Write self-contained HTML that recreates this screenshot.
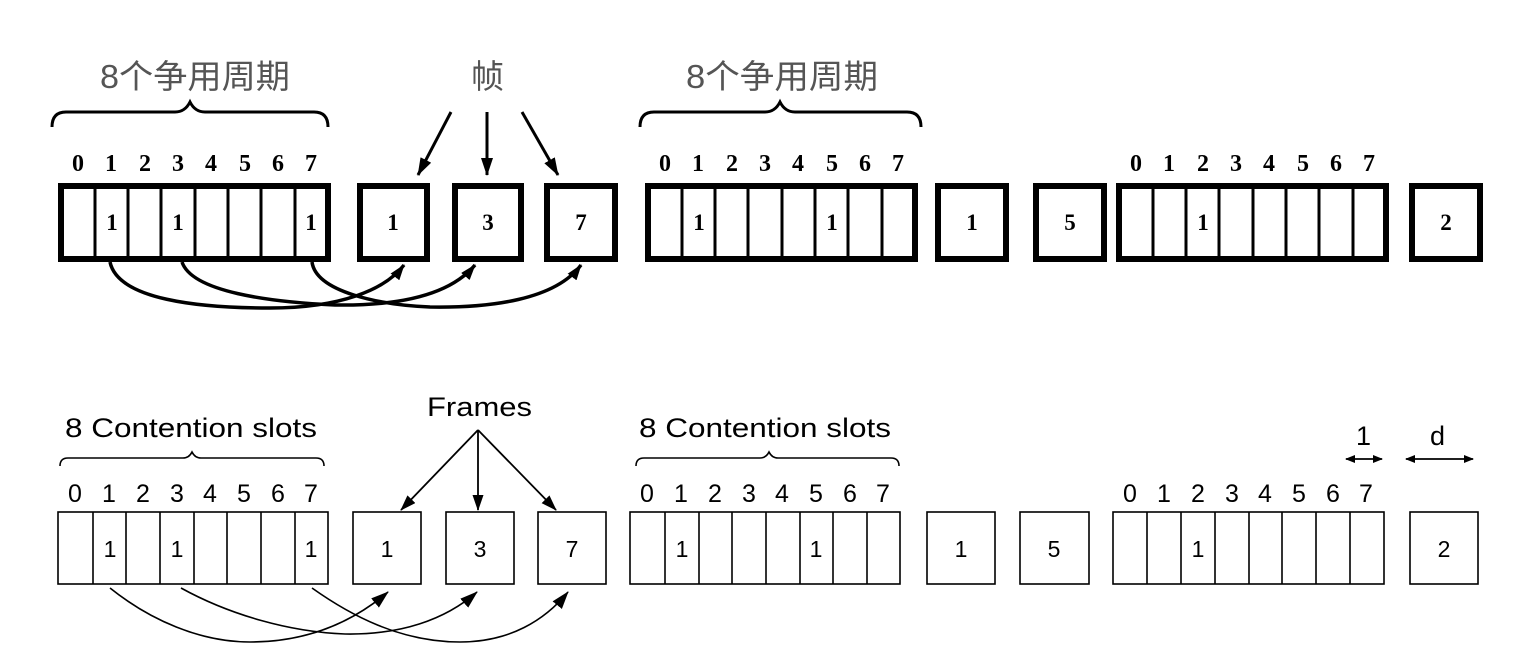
<!DOCTYPE html>
<html><head><meta charset="utf-8"><style>
html,body{margin:0;padding:0;background:#fff}
svg{display:block}
</style></head><body>
<svg width="1522" height="672" viewBox="0 0 1522 672" xmlns="http://www.w3.org/2000/svg">
<defs>
<marker id="ah" markerWidth="10" markerHeight="8" refX="9" refY="4" orient="auto-start-reverse" markerUnits="userSpaceOnUse"><path d="M0,0 L10,4 L0,8 Z" fill="#000"/></marker>
<marker id="ahb" markerWidth="16" markerHeight="11" refX="15" refY="5.5" orient="auto" markerUnits="userSpaceOnUse"><path d="M0,0 L16,5.5 L0,11 Z" fill="#000"/></marker>
<marker id="ahl" markerWidth="18" markerHeight="12" refX="17" refY="6" orient="auto" markerUnits="userSpaceOnUse"><path d="M0,0 L18,6 L0,12 Z" fill="#000"/></marker>
</defs>

<!-- ===== TOP ===== -->
<g font-family="'Liberation Sans','Noto Sans CJK SC',sans-serif" font-size="33" fill="#555">
<text x="100" y="88" textLength="190" lengthAdjust="spacingAndGlyphs">8个争用周期</text>
<text x="686" y="88" textLength="192" lengthAdjust="spacingAndGlyphs">8个争用周期</text>
<text x="471" y="88">帧</text>
</g>
<g fill="none" stroke="#000" stroke-width="3">
<path d="M52,127 Q52,112 66,112 L175,112 Q185,112 190,102 Q195,112 205,112 L314,112 Q328,112 328,127"/>
<path d="M640,127 Q640,112 654,112 L765,112 Q775,112 780,102 Q785,112 795,112 L907,112 Q921,112 921,127"/>
</g>
<g stroke="#000" stroke-width="3" fill="none">
<line x1="451" y1="112" x2="418" y2="175" marker-end="url(#ahl)"/>
<line x1="487" y1="112" x2="487" y2="175" marker-end="url(#ahl)"/>
<line x1="522" y1="112" x2="558" y2="175" marker-end="url(#ahl)"/>
</g>
<g font-family="'Liberation Serif',serif" font-weight="bold" font-size="24" text-anchor="middle" fill="#000">
<text x="78" y="171">0</text><text x="111" y="171">1</text><text x="145" y="171">2</text><text x="178" y="171">3</text><text x="211" y="171">4</text><text x="245" y="171">5</text><text x="278" y="171">6</text><text x="311" y="171">7</text>
<text x="665" y="171">0</text><text x="698" y="171">1</text><text x="732" y="171">2</text><text x="765" y="171">3</text><text x="798" y="171">4</text><text x="832" y="171">5</text><text x="865" y="171">6</text><text x="898" y="171">7</text>
<text x="1136" y="171">0</text><text x="1169" y="171">1</text><text x="1203" y="171">2</text><text x="1236" y="171">3</text><text x="1269" y="171">4</text><text x="1303" y="171">5</text><text x="1336" y="171">6</text><text x="1369" y="171">7</text>
</g>
<g fill="none" stroke="#000" stroke-width="6">
<rect x="61" y="186" width="267" height="73"/>
<rect x="360" y="186" width="67" height="73"/>
<rect x="455" y="186" width="66" height="73"/>
<rect x="547" y="186" width="68" height="73"/>
<rect x="648" y="186" width="267" height="73"/>
<rect x="938" y="186" width="68" height="73"/>
<rect x="1036" y="186" width="68" height="73"/>
<rect x="1119" y="186" width="267" height="73"/>
<rect x="1412" y="186" width="68" height="73"/>
</g>
<g stroke="#000" stroke-width="3">
<line x1="95" y1="186" x2="95" y2="259"/><line x1="128" y1="186" x2="128" y2="259"/><line x1="161" y1="186" x2="161" y2="259"/><line x1="195" y1="186" x2="195" y2="259"/><line x1="228" y1="186" x2="228" y2="259"/><line x1="261" y1="186" x2="261" y2="259"/><line x1="295" y1="186" x2="295" y2="259"/>
<line x1="682" y1="186" x2="682" y2="259"/><line x1="715" y1="186" x2="715" y2="259"/><line x1="748" y1="186" x2="748" y2="259"/><line x1="782" y1="186" x2="782" y2="259"/><line x1="815" y1="186" x2="815" y2="259"/><line x1="848" y1="186" x2="848" y2="259"/><line x1="882" y1="186" x2="882" y2="259"/>
<line x1="1153" y1="186" x2="1153" y2="259"/><line x1="1186" y1="186" x2="1186" y2="259"/><line x1="1219" y1="186" x2="1219" y2="259"/><line x1="1253" y1="186" x2="1253" y2="259"/><line x1="1286" y1="186" x2="1286" y2="259"/><line x1="1319" y1="186" x2="1319" y2="259"/><line x1="1353" y1="186" x2="1353" y2="259"/>
</g>
<g font-family="'Liberation Serif',serif" font-weight="bold" font-size="23" text-anchor="middle" fill="#000">
<text x="112" y="230">1</text><text x="178" y="230">1</text><text x="311" y="230">1</text>
<text x="393" y="230">1</text><text x="488" y="230">3</text><text x="581" y="230">7</text>
<text x="699" y="230">1</text><text x="832" y="230">1</text>
<text x="972" y="230">1</text><text x="1070" y="230">5</text>
<text x="1203" y="230">1</text><text x="1446" y="230">2</text>
</g>
<g fill="none" stroke="#000" stroke-width="3.5">
<path d="M110,262 C118,300 200,308 270,308 C340,308 385,290 404,265" marker-end="url(#ahb)"/>
<path d="M182,262 C192,292 270,302 335,305 C400,306 450,295 475,265" marker-end="url(#ahb)"/>
<path d="M312,262 C316,292 380,305 430,307 C490,308 555,300 581,265" marker-end="url(#ahb)"/>
</g>

<!-- ===== BOTTOM ===== -->
<g font-family="'Liberation Sans',sans-serif" font-size="27" fill="#000">
<text x="65" y="437" textLength="252" lengthAdjust="spacingAndGlyphs">8 Contention slots</text>
<text x="639" y="437" textLength="252" lengthAdjust="spacingAndGlyphs">8 Contention slots</text>
<text x="427" y="416" textLength="105" lengthAdjust="spacingAndGlyphs">Frames</text>
<text x="1356" y="445">1</text>
<text x="1430" y="445">d</text>
</g>
<g fill="none" stroke="#000" stroke-width="1.6">
<path d="M60,466 Q60,458 68,458 L183,458 Q189,458 192,452 Q195,458 201,458 L316,458 Q324,458 324,466"/>
<path d="M636,466 Q636,458 644,458 L760,458 Q766,458 769,452 Q772,458 778,458 L891,458 Q899,458 899,466"/>
</g>
<g stroke="#000" stroke-width="1.8" fill="none">
<line x1="478" y1="430" x2="401" y2="510" marker-end="url(#ahb)"/>
<line x1="478" y1="430" x2="478" y2="510" marker-end="url(#ahb)"/>
<line x1="478" y1="430" x2="556" y2="510" marker-end="url(#ahb)"/>
<line x1="1346" y1="459" x2="1382" y2="459" marker-start="url(#ah)" marker-end="url(#ah)"/>
<line x1="1406" y1="459" x2="1473" y2="459" marker-start="url(#ah)" marker-end="url(#ah)"/>
</g>
<g font-family="'Liberation Sans',sans-serif" font-size="25" text-anchor="middle" fill="#000">
<text x="75" y="502">0</text><text x="109" y="502">1</text><text x="143" y="502">2</text><text x="177" y="502">3</text><text x="210" y="502">4</text><text x="244" y="502">5</text><text x="278" y="502">6</text><text x="311" y="502">7</text>
<text x="647" y="502">0</text><text x="681" y="502">1</text><text x="715" y="502">2</text><text x="749" y="502">3</text><text x="782" y="502">4</text><text x="816" y="502">5</text><text x="850" y="502">6</text><text x="883" y="502">7</text>
<text x="1130" y="502">0</text><text x="1164" y="502">1</text><text x="1198" y="502">2</text><text x="1232" y="502">3</text><text x="1265" y="502">4</text><text x="1299" y="502">5</text><text x="1333" y="502">6</text><text x="1366" y="502">7</text>
</g>
<g fill="none" stroke="#000" stroke-width="1.6">
<rect x="58" y="512" width="270" height="72"/>
<rect x="353" y="512" width="68" height="72"/>
<rect x="446" y="512" width="68" height="72"/>
<rect x="538" y="512" width="68" height="72"/>
<rect x="630" y="512" width="270" height="72"/>
<rect x="927" y="512" width="68" height="72"/>
<rect x="1020" y="512" width="69" height="72"/>
<rect x="1113" y="512" width="271" height="72"/>
<rect x="1410" y="512" width="68" height="72"/>
<line x1="93" y1="512" x2="93" y2="584"/><line x1="126" y1="512" x2="126" y2="584"/><line x1="160" y1="512" x2="160" y2="584"/><line x1="194" y1="512" x2="194" y2="584"/><line x1="227" y1="512" x2="227" y2="584"/><line x1="261" y1="512" x2="261" y2="584"/><line x1="295" y1="512" x2="295" y2="584"/>
<line x1="665" y1="512" x2="665" y2="584"/><line x1="699" y1="512" x2="699" y2="584"/><line x1="732" y1="512" x2="732" y2="584"/><line x1="766" y1="512" x2="766" y2="584"/><line x1="800" y1="512" x2="800" y2="584"/><line x1="833" y1="512" x2="833" y2="584"/><line x1="867" y1="512" x2="867" y2="584"/>
<line x1="1147" y1="512" x2="1147" y2="584"/><line x1="1181" y1="512" x2="1181" y2="584"/><line x1="1215" y1="512" x2="1215" y2="584"/><line x1="1249" y1="512" x2="1249" y2="584"/><line x1="1282" y1="512" x2="1282" y2="584"/><line x1="1316" y1="512" x2="1316" y2="584"/><line x1="1350" y1="512" x2="1350" y2="584"/>
</g>
<g font-family="'Liberation Sans',sans-serif" font-size="23" text-anchor="middle" fill="#000">
<text x="110" y="557">1</text><text x="177" y="557">1</text><text x="311" y="557">1</text>
<text x="387" y="557">1</text><text x="480" y="557">3</text><text x="572" y="557">7</text>
<text x="682" y="557">1</text><text x="816" y="557">1</text>
<text x="961" y="557">1</text><text x="1054" y="557">5</text>
<text x="1198" y="557">1</text><text x="1444" y="557">2</text>
</g>
<g fill="none" stroke="#000" stroke-width="1.6">
<path d="M110,588 C150,620 200,642 250,642 C310,642 355,620 388,592" marker-end="url(#ahl)"/>
<path d="M181,588 C230,615 290,632 345,634 C400,635 445,620 477,592" marker-end="url(#ahl)"/>
<path d="M312,588 C350,615 400,642 460,642 C510,642 545,620 568,592" marker-end="url(#ahl)"/>
</g>
</svg>
</body></html>
